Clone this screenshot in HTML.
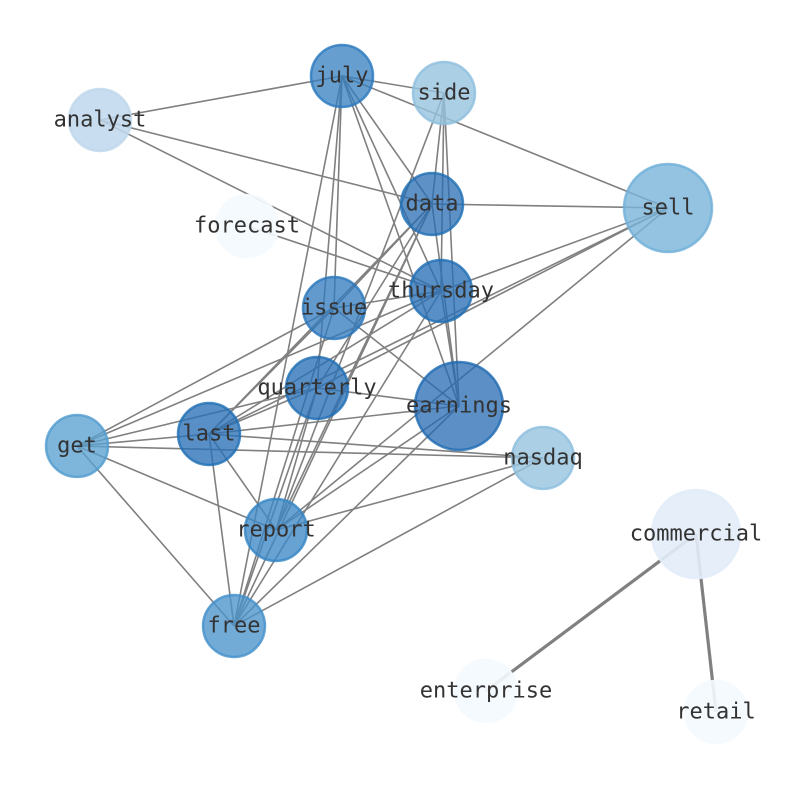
<!DOCTYPE html>
<html><head><meta charset="utf-8"><style>
html,body{margin:0;padding:0;background:#fff}
text{font-family:"DejaVu Sans Mono","Liberation Mono",monospace;font-size:22px;fill:#333;text-anchor:middle;dominant-baseline:central}
</style></head><body>
<svg width="794" height="790" viewBox="0 0 794 790" xmlns="http://www.w3.org/2000/svg">
<g stroke="#808080" stroke-width="1.6" fill="none">
<line x1="100" y1="120" x2="342" y2="76"/>
<line x1="100" y1="120" x2="432" y2="204"/>
<line x1="100" y1="120" x2="441" y2="291"/>
<line x1="247" y1="226" x2="441" y2="291"/>
<line x1="342" y1="76" x2="444" y2="93"/>
<line x1="342" y1="76" x2="668" y2="208"/>
<line x1="342" y1="76" x2="432" y2="204"/>
<line x1="342" y1="76" x2="441" y2="291"/>
<line x1="342" y1="76" x2="459" y2="406"/>
<line x1="342" y1="76" x2="334" y2="308"/>
<line x1="342" y1="76" x2="317" y2="388"/>
<line x1="342" y1="76" x2="234" y2="626"/>
<line x1="444" y1="93" x2="432" y2="204"/>
<line x1="444" y1="93" x2="441" y2="291"/>
<line x1="444" y1="93" x2="459" y2="406"/>
<line x1="444" y1="93" x2="276" y2="530"/>
<line x1="432" y1="204" x2="668" y2="208"/>
<line x1="432" y1="204" x2="209" y2="434"/>
<line x1="432" y1="204" x2="334" y2="308"/>
<line x1="432" y1="204" x2="234" y2="626"/>
<line x1="432" y1="204" x2="276" y2="530"/>
<line x1="432" y1="204" x2="459" y2="406"/>
<line x1="432" y1="204" x2="317" y2="388"/>
<line x1="441" y1="291" x2="668" y2="208"/>
<line x1="441" y1="291" x2="209" y2="434"/>
<line x1="441" y1="291" x2="334" y2="308"/>
<line x1="441" y1="291" x2="234" y2="626"/>
<line x1="441" y1="291" x2="77" y2="446"/>
<line x1="441" y1="291" x2="459" y2="406"/>
<line x1="668" y1="208" x2="317" y2="388"/>
<line x1="668" y1="208" x2="276" y2="530"/>
<line x1="668" y1="208" x2="209" y2="434"/>
<line x1="334" y1="308" x2="459" y2="406"/>
<line x1="334" y1="308" x2="77" y2="446"/>
<line x1="334" y1="308" x2="209" y2="434"/>
<line x1="334" y1="308" x2="234" y2="626"/>
<line x1="317" y1="388" x2="459" y2="406"/>
<line x1="317" y1="388" x2="77" y2="446"/>
<line x1="317" y1="388" x2="209" y2="434"/>
<line x1="317" y1="388" x2="234" y2="626"/>
<line x1="317" y1="388" x2="276" y2="530"/>
<line x1="459" y1="406" x2="209" y2="434"/>
<line x1="459" y1="406" x2="276" y2="530"/>
<line x1="459" y1="406" x2="234" y2="626"/>
<line x1="77" y1="446" x2="209" y2="434"/>
<line x1="77" y1="446" x2="543" y2="458"/>
<line x1="77" y1="446" x2="276" y2="530"/>
<line x1="77" y1="446" x2="234" y2="626"/>
<line x1="209" y1="434" x2="543" y2="458"/>
<line x1="209" y1="434" x2="234" y2="626"/>
<line x1="209" y1="434" x2="276" y2="530"/>
<line x1="543" y1="458" x2="276" y2="530"/>
<line x1="543" y1="458" x2="234" y2="626"/>
</g>
<g stroke="#808080" stroke-width="3.2">
<line x1="696" y1="534" x2="486" y2="691"/>
<line x1="696" y1="534" x2="716" y2="712"/>
</g>
<g stroke-width="2.5">
<circle cx="342" cy="76" r="31" fill="rgba(52,126,192,0.75)" stroke="rgba(40,120,190,0.8)"/>
<circle cx="444" cy="93" r="31" fill="rgba(150,196,223,0.8)" stroke="rgba(140,190,222,0.8)"/>
<circle cx="100" cy="120" r="31" fill="rgba(190,215,236,0.85)" stroke="rgba(190,215,236,0.8)"/>
<circle cx="432" cy="204" r="31" fill="rgba(40,110,180,0.75)" stroke="rgba(30,110,180,0.8)"/>
<circle cx="247" cy="226" r="31" fill="rgba(244,249,254,0.9)" stroke="rgba(244,249,254,0.9)"/>
<circle cx="668" cy="208" r="44" fill="rgba(120,180,218,0.8)" stroke="rgba(110,175,216,0.8)"/>
<circle cx="441" cy="291" r="31" fill="rgba(40,112,182,0.78)" stroke="rgba(30,110,180,0.8)"/>
<circle cx="334" cy="308" r="31" fill="rgba(48,122,190,0.76)" stroke="rgba(40,118,188,0.8)"/>
<circle cx="317" cy="388" r="31" fill="rgba(40,112,182,0.78)" stroke="rgba(30,110,180,0.8)"/>
<circle cx="459" cy="406" r="44" fill="rgba(36,106,178,0.75)" stroke="rgba(30,106,178,0.8)"/>
<circle cx="77" cy="446" r="31" fill="rgba(90,160,208,0.78)" stroke="rgba(80,155,206,0.8)"/>
<circle cx="209" cy="434" r="31" fill="rgba(40,112,182,0.78)" stroke="rgba(30,110,180,0.8)"/>
<circle cx="543" cy="458" r="31" fill="rgba(150,196,223,0.8)" stroke="rgba(140,190,222,0.8)"/>
<circle cx="276" cy="530" r="31" fill="rgba(60,136,198,0.78)" stroke="rgba(50,132,196,0.8)"/>
<circle cx="696" cy="534" r="44" fill="rgba(226,236,248,0.9)" stroke="rgba(226,236,248,0.9)"/>
<circle cx="234" cy="626" r="31" fill="rgba(76,148,204,0.78)" stroke="rgba(66,144,202,0.8)"/>
<circle cx="486" cy="691" r="31" fill="rgba(244,249,254,0.9)" stroke="rgba(244,249,254,0.9)"/>
<circle cx="716" cy="712" r="31" fill="rgba(244,249,254,0.9)" stroke="rgba(244,249,254,0.9)"/>
</g>
<text x="342" y="76">july</text>
<text x="444" y="93">side</text>
<text x="100" y="120">analyst</text>
<text x="432" y="204">data</text>
<text x="247" y="226">forecast</text>
<text x="668" y="208">sell</text>
<text x="441" y="291">thursday</text>
<text x="334" y="308">issue</text>
<text x="317" y="388">quarterly</text>
<text x="459" y="406">earnings</text>
<text x="77" y="446">get</text>
<text x="209" y="434">last</text>
<text x="543" y="458">nasdaq</text>
<text x="276" y="530">report</text>
<text x="696" y="534">commercial</text>
<text x="234" y="626">free</text>
<text x="486" y="691">enterprise</text>
<text x="716" y="712">retail</text>
</svg>
</body></html>
